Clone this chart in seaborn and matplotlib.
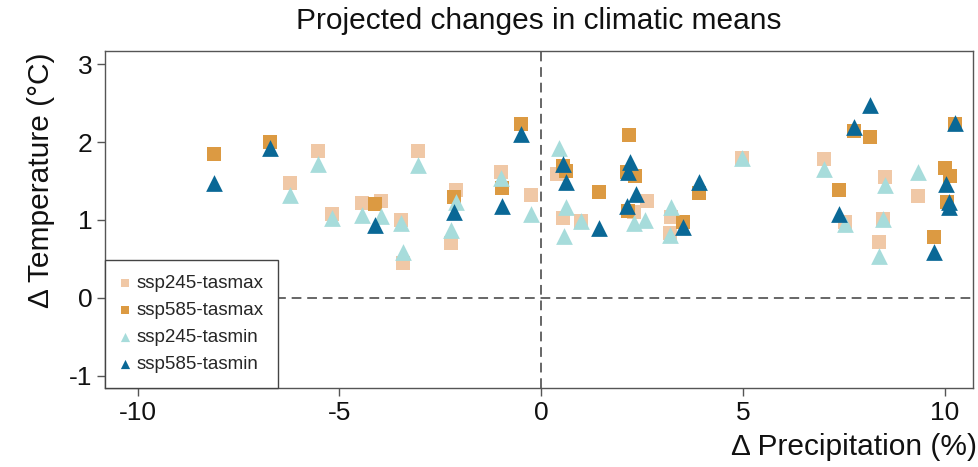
import numpy as np
import pandas as pd
import matplotlib
matplotlib.use("Agg")
import matplotlib.pyplot as plt
import seaborn as sns

# ---- data ----
ssp245_tasmax_x = [-6.22, -5.53, -5.19, -4.43, -3.98, -3.48, -3.43, -3.06, -2.10, -2.23,
                   -0.99, -0.25, 0.39, 0.55, 0.98, 2.61, 2.30, 3.22, 3.19, 4.97,
                   7.01, 7.53, 8.51, 8.48, 8.37, 9.33]
ssp245_tasmax_y = [1.48, 1.89, 1.08, 1.22, 1.24, 1.00, 0.45, 1.89, 1.39, 0.70,
                   1.62, 1.32, 1.59, 1.02, 0.98, 1.24, 1.10, 1.04, 0.83, 1.79,
                   1.78, 0.97, 1.55, 1.01, 0.72, 1.31]

ssp585_tasmax_x = [-8.10, -6.72, -4.12, -2.15, -0.96, -0.50, 0.55, 0.62, 1.42, 2.18,
                   2.12, 2.32, 2.16, 3.51, 3.90, 7.38, 7.75, 8.14, 10.00, 10.14,
                   10.06, 9.74, 10.26]
ssp585_tasmax_y = [1.85, 2.00, 1.21, 1.29, 1.41, 2.23, 1.69, 1.63, 1.36, 2.09,
                   1.61, 1.57, 1.12, 0.97, 1.34, 1.38, 2.14, 2.06, 1.67, 1.57,
                   1.23, 0.78, 2.23]

ssp245_tasmin_x = [-6.22, -5.53, -5.19, -4.43, -3.96, -3.48, -3.43, -3.06, -2.10, -2.23,
                   -0.99, -0.25, 0.43, 0.61, 0.57, 0.99, 2.30, 2.58, 3.22, 3.19,
                   4.97, 7.01, 7.53, 8.51, 8.48, 8.37, 9.33]
ssp245_tasmin_y = [1.32, 1.72, 1.03, 1.06, 1.05, 0.96, 0.59, 1.71, 1.23, 0.87,
                   1.54, 1.08, 1.93, 1.16, 0.79, 0.99, 0.96, 1.00, 1.17, 0.80,
                   1.79, 1.66, 0.95, 1.45, 1.01, 0.54, 1.62]

ssp585_tasmin_x = [-8.10, -6.72, -4.12, -2.15, -0.96, -0.50, 0.55, 0.61, 1.42, 2.20,
                   2.16, 2.34, 2.12, 3.51, 3.90, 7.38, 7.75, 8.14, 10.02, 10.10,
                   10.10, 9.74, 10.26]
ssp585_tasmin_y = [1.48, 1.92, 0.93, 1.10, 1.18, 2.10, 1.72, 1.49, 0.89, 1.74,
                   1.61, 1.33, 1.18, 0.91, 1.49, 1.08, 2.19, 2.48, 1.46, 1.23,
                   1.16, 0.59, 2.25]

series_names = ["ssp245-tasmax", "ssp585-tasmax", "ssp245-tasmin", "ssp585-tasmin"]
x_ticks = [-10, -5, 0, 5, 10]
y_ticks = [-1, 0, 1, 2, 3]

title = "Projected changes in climatic means"
xlabel = "\u0394 Precipitation (%)"
ylabel = "\u0394 Temperature (\u00b0C)"

# ---- build long table ----
frames = []
for name, xs, ys in [
    (series_names[0], ssp245_tasmax_x, ssp245_tasmax_y),
    (series_names[1], ssp585_tasmax_x, ssp585_tasmax_y),
    (series_names[2], ssp245_tasmin_x, ssp245_tasmin_y),
    (series_names[3], ssp585_tasmin_x, ssp585_tasmin_y),
]:
    frames.append(pd.DataFrame({"precip": xs, "temp": ys, "series": name}))
df = pd.concat(frames, ignore_index=True)

colors = {
    "ssp245-tasmax": "#F0C8A6",
    "ssp585-tasmax": "#DC9A42",
    "ssp245-tasmin": "#A7DCDB",
    "ssp585-tasmin": "#0A6896",
}
markers = {
    "ssp245-tasmax": "s",
    "ssp585-tasmax": "s",
    "ssp245-tasmin": "^",
    "ssp585-tasmin": "^",
}
sizes = {
    "ssp245-tasmax": 100,
    "ssp585-tasmax": 100,
    "ssp245-tasmin": 145,
    "ssp585-tasmin": 145,
}

sns.set_theme(style="white")
plt.rcParams["font.family"] = ["Liberation Sans", "DejaVu Sans"]

fig = plt.figure(figsize=(9.79, 4.67), dpi=100)
ax = fig.add_axes([0.1076, 0.1692, 0.8863, 0.7216])

for name in series_names:
    sub = df[df["series"] == name]
    sns.scatterplot(data=sub, x="precip", y="temp", ax=ax, color=colors[name],
                    marker=markers[name], s=sizes[name], linewidth=0,
                    label=name, zorder=3)

ax.axvline(0, color="#666666", lw=1.4, ls=(0, (5, 3)), zorder=1)
ax.axhline(0, color="#666666", lw=1.4, ls=(0, (5, 3)), zorder=1)

ax.set_xlim(-10.8, 10.7)
ax.set_ylim(-1.16, 3.17)
ax.set_xticks(x_ticks)
ax.set_yticks(y_ticks)
ax.set_xticklabels([str(t) for t in x_ticks])
ax.set_yticklabels([str(t) for t in y_ticks])

for sp in ax.spines.values():
    sp.set_color("#555555")
    sp.set_linewidth(1.0)

ax.tick_params(axis="both", which="major", direction="out", length=5.5, width=1.0,
               color="#555555", labelsize=19, labelcolor="#111111", pad=4,
               bottom=True, left=True)

ax.set_title(title, fontsize=21.5, color="#111111", pad=16)
ax.set_xlabel(xlabel, fontsize=21.5, color="#111111", ha="right")
ax.xaxis.set_label_coords(1.005, -0.135)
ax.set_ylabel(ylabel, fontsize=21.5, color="#111111")
ax.yaxis.set_label_coords(-0.058, 0.617)

leg = ax.legend(loc="lower left", bbox_to_anchor=(0, 0), borderaxespad=0,
                frameon=True, fancybox=False, edgecolor="#444444", framealpha=1,
                fontsize=13.5, markerscale=0.55, handletextpad=0.35,
                labelspacing=0.53, borderpad=0.8, handlelength=0.5)
leg.get_frame().set_linewidth(1.0)

fig.savefig("out.png", dpi=100)
